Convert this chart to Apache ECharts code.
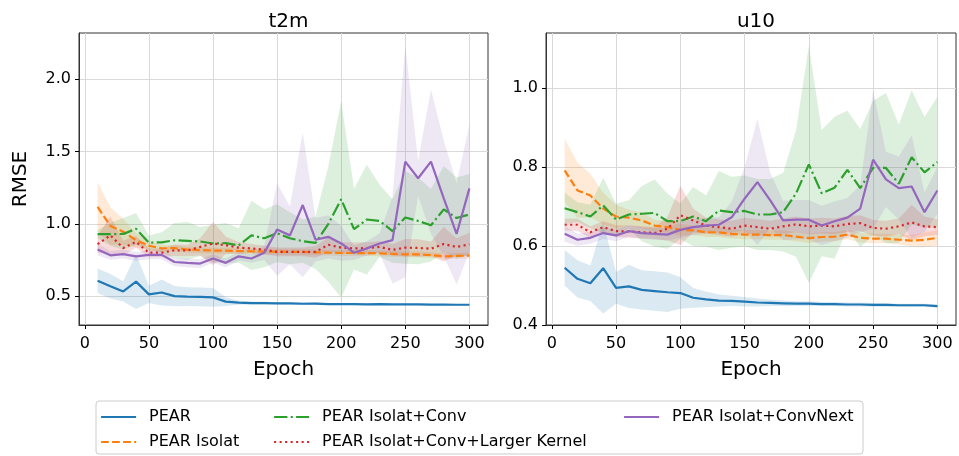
<!DOCTYPE html>
<html>
<head>
<meta charset="utf-8">
<script src="https://cdn.jsdelivr.net/npm/echarts@6/dist/echarts.min.js"></script>
<style>html,body{margin:0;padding:0;background:#fff}#c{width:959px;height:456px}</style>
</head>
<body>
<div id="c"></div>
<script>
// ---------- data ----------
const epochs = [10,20,30,40,50,60,70,80,90,100,110,120,130,140,150,160,170,180,190,200,210,220,230,240,250,260,270,280,290,300];
const seriesNames = ['PEAR','PEAR Isolat','PEAR Isolat+Conv','PEAR Isolat+Conv+Larger Kernel','PEAR Isolat+ConvNext'];
const xTicks = [0,50,100,150,200,250,300];
const t2mTicks = [0.5,1.0,1.5,2.0];
const u10Ticks = [0.4,0.6,0.8,1.0];

// t2m means / std
const t2m_pear = [0.606,0.568,0.532,0.600,0.512,0.525,0.500,0.496,0.495,0.491,0.462,0.455,0.452,0.451,0.450,0.449,0.447,0.448,0.445,0.444,0.444,0.443,0.444,0.442,0.442,0.442,0.441,0.441,0.440,0.440];
const t2m_pear_sd = [0.085,0.085,0.07,0.19,0.06,0.09,0.07,0.065,0.065,0.065,0.03,0.015,0.01,0.01,0.008,0.008,0.008,0.007,0.006,0.006,0.006,0.006,0.006,0.006,0.005,0.005,0.005,0.005,0.005,0.005];
const t2m_isolat = [1.117,0.985,0.945,0.887,0.848,0.830,0.832,0.822,0.818,0.815,0.815,0.812,0.810,0.808,0.808,0.806,0.805,0.803,0.800,0.798,0.798,0.797,0.796,0.792,0.788,0.788,0.783,0.775,0.778,0.780];
const t2m_isolat_sd = [0.17,0.13,0.09,0.05,0.03,0.025,0.02,0.02,0.02,0.02,0.02,0.02,0.02,0.02,0.02,0.02,0.02,0.02,0.02,0.02,0.02,0.02,0.02,0.02,0.02,0.02,0.02,0.02,0.02,0.02];
const t2m_conv = [0.928,0.928,0.930,0.965,0.870,0.872,0.886,0.882,0.878,0.864,0.866,0.850,0.920,0.900,0.935,0.900,0.880,0.868,1.000,1.170,0.963,1.030,1.020,0.950,1.044,1.020,0.990,1.100,1.040,1.065];
const t2m_conv_sd = [0.03,0.08,0.11,0.11,0.05,0.07,0.12,0.13,0.10,0.13,0.14,0.12,0.24,0.20,0.20,0.18,0.15,0.18,0.40,0.68,0.28,0.38,0.25,0.22,0.32,0.30,0.25,0.30,0.28,0.28];
const t2m_large = [0.859,0.920,0.833,0.875,0.800,0.800,0.817,0.815,0.840,0.864,0.852,0.835,0.830,0.820,0.806,0.806,0.806,0.806,0.855,0.835,0.830,0.832,0.840,0.820,0.835,0.833,0.828,0.860,0.840,0.858];
const t2m_large_sd = [0.06,0.13,0.05,0.04,0.03,0.03,0.04,0.04,0.06,0.15,0.06,0.04,0.03,0.03,0.03,0.03,0.03,0.04,0.05,0.04,0.04,0.04,0.04,0.04,0.06,0.06,0.05,0.12,0.06,0.08];
const t2m_next = [0.822,0.782,0.790,0.775,0.785,0.785,0.736,0.730,0.725,0.760,0.730,0.775,0.760,0.800,0.960,0.920,1.130,0.890,0.910,0.864,0.800,0.830,0.864,0.887,1.430,1.315,1.430,1.176,0.930,1.245];
const t2m_next_sd = [0.04,0.03,0.03,0.03,0.03,0.03,0.03,0.03,0.03,0.03,0.03,0.03,0.03,0.05,0.32,0.20,0.50,0.15,0.15,0.12,0.05,0.05,0.07,0.30,0.80,0.12,0.50,0.40,0.35,0.44];

// u10 means / std
const u10_pear = [0.545,0.517,0.506,0.544,0.494,0.498,0.489,0.486,0.483,0.481,0.469,0.465,0.462,0.461,0.459,0.457,0.456,0.455,0.454,0.454,0.453,0.453,0.452,0.452,0.451,0.451,0.450,0.450,0.450,0.448];
const u10_pear_sd = [0.045,0.047,0.045,0.115,0.04,0.055,0.05,0.05,0.05,0.04,0.025,0.02,0.015,0.013,0.012,0.01,0.008,0.007,0.006,0.006,0.005,0.005,0.005,0.005,0.005,0.005,0.004,0.004,0.004,0.004];
const u10_isolat = [0.792,0.741,0.728,0.695,0.675,0.672,0.665,0.652,0.648,0.641,0.640,0.635,0.635,0.631,0.629,0.629,0.628,0.628,0.624,0.620,0.623,0.624,0.629,0.621,0.619,0.619,0.616,0.614,0.616,0.621];
const u10_isolat_sd = [0.08,0.07,0.055,0.04,0.03,0.02,0.02,0.015,0.015,0.015,0.012,0.012,0.012,0.012,0.012,0.012,0.012,0.012,0.012,0.012,0.012,0.012,0.012,0.012,0.012,0.012,0.012,0.015,0.018,0.02];
const u10_conv = [0.696,0.686,0.675,0.703,0.667,0.680,0.682,0.684,0.663,0.663,0.675,0.663,0.690,0.686,0.689,0.680,0.680,0.686,0.733,0.807,0.734,0.748,0.793,0.747,0.798,0.798,0.758,0.825,0.787,0.813];
const u10_conv_sd = [0.04,0.025,0.03,0.07,0.04,0.036,0.07,0.085,0.07,0.045,0.075,0.065,0.10,0.09,0.09,0.09,0.09,0.10,0.16,0.30,0.16,0.18,0.15,0.15,0.17,0.19,0.15,0.17,0.14,0.165];
const u10_large = [0.654,0.654,0.635,0.648,0.638,0.637,0.635,0.633,0.644,0.678,0.665,0.652,0.648,0.644,0.652,0.648,0.644,0.650,0.655,0.650,0.652,0.650,0.656,0.658,0.646,0.644,0.650,0.660,0.650,0.648];
const u10_large_sd = [0.015,0.015,0.015,0.015,0.015,0.015,0.015,0.015,0.03,0.075,0.03,0.02,0.02,0.02,0.02,0.02,0.02,0.02,0.02,0.02,0.02,0.02,0.02,0.02,0.02,0.02,0.02,0.045,0.025,0.02];
const u10_next = [0.631,0.616,0.621,0.633,0.627,0.638,0.633,0.631,0.629,0.641,0.648,0.652,0.654,0.673,0.720,0.762,0.716,0.665,0.667,0.667,0.652,0.663,0.672,0.695,0.819,0.769,0.747,0.751,0.686,0.741];
const u10_next_sd = [0.02,0.015,0.015,0.015,0.015,0.015,0.015,0.015,0.015,0.02,0.02,0.02,0.02,0.04,0.08,0.16,0.07,0.05,0.05,0.05,0.05,0.05,0.05,0.06,0.175,0.07,0.08,0.13,0.05,0.06];

// ---------- styles ----------
const colors = ['#1f77b4','#ff7f0e','#2ca02c','#d62728','#9467bd'];
const dashes = ['solid',[7.7,3.3],[13.3,3.3,2.1,3.3],[2.1,3.4],'solid'];
const FONT = 'DejaVu Sans';

const panels = [
  {means:[t2m_pear,t2m_isolat,t2m_conv,t2m_large,t2m_next], sds:[t2m_pear_sd,t2m_isolat_sd,t2m_conv_sd,t2m_large_sd,t2m_next_sd]},
  {means:[u10_pear,u10_isolat,u10_conv,u10_large,u10_next], sds:[u10_pear_sd,u10_isolat_sd,u10_conv_sd,u10_large_sd,u10_next_sd]}
];

function hexA(h, a){const r=parseInt(h.slice(1,3),16),g=parseInt(h.slice(3,5),16),b=parseInt(h.slice(5,7),16);return `rgba(${r},${g},${b},${a})`;}

const series = [];
panels.forEach((p, pi) => {
  p.means.forEach((m, si) => {
    const sd = p.sds[si];
    series.push({
      type:'custom', xAxisIndex:pi, yAxisIndex:pi, silent:true, z:1,
      data:[[epochs[0], m[0]]],
      renderItem:(params, api) => {
        const pts = [];
        for (let i=0;i<epochs.length;i++) pts.push(api.coord([epochs[i], m[i]+sd[i]]));
        for (let i=epochs.length-1;i>=0;i--) pts.push(api.coord([epochs[i], m[i]-sd[i]]));
        return {type:'polygon', shape:{points:pts}, style:{fill:hexA(colors[si],0.16), stroke:null}};
      }
    });
  });
});
panels.forEach((p, pi) => {
  p.means.forEach((m, si) => {
    series.push({
      name: seriesNames[si], type:'line', xAxisIndex:pi, yAxisIndex:pi,
      data: epochs.map((e,i)=>[e, m[i]]),
      symbol:'none', showSymbol:false, z:3+si, silent:true,
      itemStyle:{color:'rgba(0,0,0,0)'},
      lineStyle:{color:colors[si], width:2.2, type:dashes[si], cap:'butt'}
    });
  });
});

const axisLineStyle = {color:'#333', width:1};
function xAxis(gi){
  return {type:'value', gridIndex:gi, min:-4.5, max:314.5,
    name:'Epoch', nameLocation:'middle', nameGap:35,
    nameTextStyle:{fontFamily:FONT, fontSize:20, color:'#000'},
    axisLine:{show:true, onZero:false, lineStyle:axisLineStyle},
    axisTick:{show:true, length:4, lineStyle:{color:'#000'}, customValues:xTicks},
    axisLabel:{fontFamily:FONT, fontSize:16, color:'#000', margin:11, customValues:xTicks, formatter:v=>String(Math.round(v))},
    splitLine:{show:true, lineStyle:{color:'#d9d9d9', width:1}}
  };
}
function yAxis(gi, min, max, ticks, name){
  return {type:'value', gridIndex:gi, min:min, max:max,
    name:name, nameLocation:'middle', nameGap:48, nameRotate:90,
    nameTextStyle:{fontFamily:FONT, fontSize:20, color:'#000'},
    axisLine:{show:true, onZero:false, lineStyle:axisLineStyle},
    axisTick:{show:true, length:4, lineStyle:{color:'#000'}, customValues:ticks},
    axisLabel:{fontFamily:FONT, fontSize:16, color:'#000', margin:8, customValues:ticks, formatter:v=>v.toFixed(1)},
    splitLine:{show:true, lineStyle:{color:'#d9d9d9', width:1}}
  };
}

const legendBase = {orient:'vertical', itemWidth:35, itemHeight:14, itemGap:9, padding:0, height:80, width:300,
  textStyle:{fontFamily:FONT, fontSize:16, color:'#000', lineHeight:14, padding:[0,0,0,8]}, selectedMode:false,
  lineStyle:{width:2.2}};

const option = {
  animation:false,
  backgroundColor:'#fff',
  title:[
    {text:'t2m', left:283.5, top:7, textAlign:'center', textStyle:{fontFamily:FONT, fontSize:20, fontWeight:'normal', color:'#000'}},
    {text:'u10', left:751, top:7, textAlign:'center', textStyle:{fontFamily:FONT, fontSize:20, fontWeight:'normal', color:'#000'}}
  ],
  grid:[
    {left:79, top:33, width:409, height:292, show:true, borderColor:'#333', borderWidth:1, backgroundColor:'transparent'},
    {left:546, top:33, width:410, height:292, show:true, borderColor:'#333', borderWidth:1, backgroundColor:'transparent'}
  ],
  xAxis:[xAxis(0), xAxis(1)],
  yAxis:[yAxis(0, 0.30, 2.32, t2mTicks, 'RMSE'), yAxis(1, 0.40, 1.14, u10Ticks, '')],
  legend:[
    Object.assign({}, legendBase, {left:100, top:409, data:[seriesNames[0], seriesNames[1]]}),
    Object.assign({}, legendBase, {left:273, top:409, data:[seriesNames[2], seriesNames[3]]}),
    Object.assign({}, legendBase, {left:623, top:409, data:[seriesNames[4]]})
  ],
  graphic:[{type:'rect', shape:{x:96, y:401, width:767, height:53, r:3}, style:{fill:'none', stroke:'#cccccc', lineWidth:1}, z:-1}],
  series:series
};

const chart = echarts.init(document.getElementById('c'), null, {renderer:'canvas'});
chart.setOption(option);
</script>
</body>
</html>
